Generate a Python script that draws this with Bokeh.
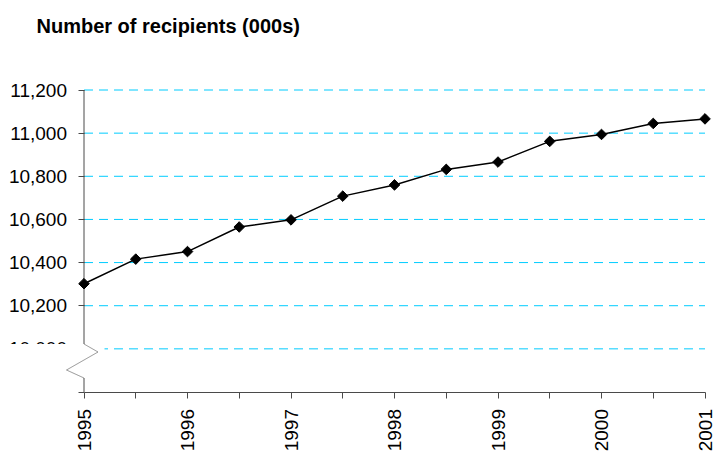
import math
from bokeh.plotting import figure
from bokeh.models import (Range1d, FixedTicker, NumeralTickFormatter, Label,
                          BoxAnnotation, PolyAnnotation)
from bokeh.embed import file_html
from bokeh.resources import INLINE

# ---- data ----
title_text = "Number of recipients (000s)"
periods = [1995.0, 1995.5, 1996.0, 1996.5, 1997.0, 1997.5, 1998.0,
           1998.5, 1999.0, 1999.5, 2000.0, 2000.5, 2001.0]
recipients = [10302, 10416, 10451, 10565, 10598, 10708, 10760,
              10832, 10866, 10962, 10994, 11045, 11066]
year_ticks = [1995, 1996, 1997, 1998, 1999, 2000, 2001]
half_ticks = [1995.5, 1996.5, 1997.5, 1998.5, 1999.5, 2000.5]
value_ticks = [10000, 10200, 10400, 10600, 10800, 11000, 11200]
axis_floor = 9800
axis_break_value = 10000

# ---- layout (pixel geometry of the chart area) ----
W, H = 716, 452
X_LEFT_PX, X_RIGHT_PX = 83.5, 704.5     # pixel of first / last year
Y_TOP_PX, Y_FLOOR_PX = 89.5, 391.5      # pixel of top value / axis floor
x0, x1 = year_ticks[0], year_ticks[-1]
ytop = value_ticks[-1]
ppy = (X_RIGHT_PX - X_LEFT_PX) / (x1 - x0)
upp = (ytop - axis_floor) / (Y_FLOOR_PX - Y_TOP_PX)


def xd(px):
    return x0 + (px - X_LEFT_PX) / ppy


def yd(px):
    return ytop + (Y_TOP_PX - px) * upp


axis_col = "#4a4a4a"
grid_col = "#00ccff"
font = "Liberation Sans"

p = figure(width=W, height=H,
           x_range=Range1d(xd(0), xd(W)),
           y_range=Range1d(yd(H), yd(0)),
           output_backend="svg", toolbar_location=None,
           min_border=0, min_border_left=0, min_border_right=0,
           min_border_top=0, min_border_bottom=0)
p.title.visible = False
p.outline_line_color = None
p.background_fill_color = "white"
p.border_fill_color = "white"
p.grid.visible = False

# gridlines
p.segment(x0=[x0] * len(value_ticks), x1=[x1] * len(value_ticks),
          y0=value_ticks, y1=value_ticks,
          line_color=grid_col, line_dash="9 6", line_width=1)

# y axis line with a break
bt = yd(343.5)
bb = yd(377.5)
p.segment(x0=[x0, x0], x1=[x0, x0], y0=[axis_floor, bt], y1=[bb, ytop],
          line_color=axis_col, line_width=1)

# data
p.line(periods, recipients, line_color="black", line_width=1.5)
p.scatter(periods, recipients, marker="square", angle=math.pi / 4, size=7.5,
          fill_color="black", line_color="black")

# x axis
xa = p.xaxis[0]
xa.fixed_location = axis_floor
xa.ticker = FixedTicker(ticks=year_ticks, minor_ticks=half_ticks)
xa.formatter = NumeralTickFormatter(format="0")
xa.bounds = (x0, x1)
xa.axis_line_color = axis_col
xa.major_tick_line_color = axis_col
xa.minor_tick_line_color = axis_col
xa.major_tick_in = 0
xa.major_tick_out = 6
xa.minor_tick_in = 0
xa.minor_tick_out = 6
xa.major_label_orientation = math.pi / 2
xa.major_label_standoff = 11
xa.major_label_text_font = font
xa.major_label_text_font_size = "19px"
xa.major_label_text_color = "black"

# y axis
ya = p.yaxis[0]
ya.fixed_location = x0
ya.ticker = FixedTicker(ticks=[axis_floor] + value_ticks, minor_ticks=[])
ya.formatter = NumeralTickFormatter(format="0,0")
ya.major_label_overrides = {axis_floor: ""}
ya.axis_line_color = None
ya.major_tick_line_color = axis_col
ya.minor_tick_line_color = None
ya.major_tick_in = 0
ya.major_tick_out = 6
ya.major_label_standoff = 11
ya.major_label_text_font = font
ya.major_label_text_font_size = "19px"
ya.major_label_text_color = "black"

# break cover and zigzag
cover = BoxAnnotation(left=xd(0), right=xd(104),
                      top=bt, bottom=yd(358),
                      fill_color="white", fill_alpha=1.0, line_color=None)
p.add_layout(cover)
zx = [x0, xd(97.5), xd(66), x0, xd(66), xd(97.5)]
zy = [bt, yd(351.5), yd(369.5), bb, yd(369.5), yd(351.5)]
zig = PolyAnnotation(xs=zx, ys=zy, line_color=axis_col, line_width=1,
                     fill_alpha=0, line_join="round")
p.add_layout(zig)

# title
title = Label(x=xd(36), y=yd(25), text=title_text,
              text_font=font, text_font_size="20px", text_font_style="bold",
              text_color="black", text_baseline="alphabetic", text_align="left")
p.add_layout(title)

open("out.html", "w").write(file_html(p, INLINE))
